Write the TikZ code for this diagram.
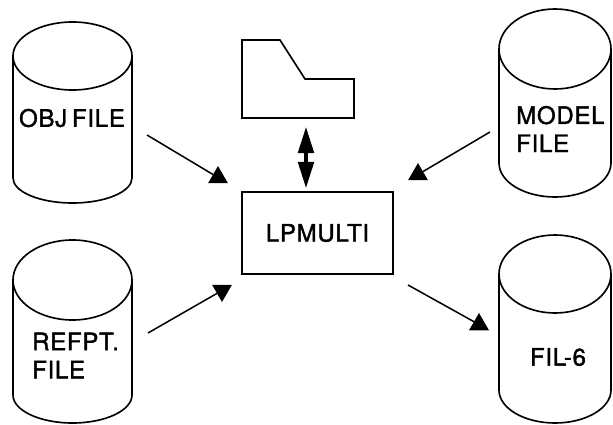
\documentclass[tikz,border=0pt]{standalone}
\usepackage{fontspec}
\newfontfamily\lblfont[FakeBold=1.6, LetterSpace=3]{TeX Gyre Heros}
\usetikzlibrary{positioning,arrows.meta,shapes.geometric}

% cylinder: left x, right x, top centre y, top y radius, bottom centre y, bottom y radius
\newcommand{\drum}[6]{%
  \pgfmathsetmacro\drumrx{(#2-#1)/2}
  \draw[cyl] ({(#1+#2)/2},-#3) ellipse [x radius=\drumrx, y radius=#4];
  \draw[cyl] (#1,-#3) -- (#1,-#5) arc [start angle=180, end angle=360, x radius=\drumrx, y radius=#6] -- (#2,-#3);
}

\tikzset{
  cyl/.style={line width=1.4pt},
  lbl/.style={font=\lblfont\fontsize{20.5}{24}\selectfont, inner sep=0pt, align=left},
  tipup/.style={regular polygon, regular polygon sides=3, fill=black, inner sep=0pt, outer sep=0pt, minimum size=0.69cm},
  tipdown/.style={tipup, rotate=180},
  conn/.style={line width=1.3pt},
  dblarrow/.style={line width=2.6pt, {Triangle[length=0.78cm 0,width=0.47cm 0]}-{Triangle[length=0.78cm 0,width=0.47cm 0]}},
}

\begin{document}
\begin{tikzpicture}[x=0.03cm,y=0.03cm]
\useasboundingbox (0,0) rectangle (613,-425);

% files
\drum{13}{132}{56}{34}{178}{25}
\drum{499}{611}{49}{40}{163}{34}
\drum{13}{132}{280}{40}{395}{28}
\drum{499}{611}{274}{39}{390}{33}
\node[lbl] (objtxt) at (72,-118) {OBJ\hspace{0.2em}FILE};
\node[lbl, anchor=west] (modeltxt) at (516,-129) {MODEL\\FILE};
\node[lbl, anchor=west] (refpttxt) at (32,-355.5) {REFPT.\\FILE};
\node[lbl] (filtxt) at (558,-357) {FIL-6};

% program and part
\node[draw, line width=1.4pt, minimum width=4.53cm, minimum height=2.46cm, inner sep=0pt,
      font=\lblfont\fontsize{20.5}{24}\selectfont] (lpmulti) at (317.5,-233) {LPMULTI};
\draw[line width=1.4pt] (242,-40) -- (280,-40) -- (305,-79) -- (354,-79) -- (354,-118) -- (242,-118) -- cycle;
\coordinate (partbase) at (306,-127);
\coordinate (lpin) at (306,-188);
\draw[dblarrow] (partbase) -- (lpin);

% arrow heads
\node[tipup] (t1) at (218,-177.5) {};
\node[tipup] (t2) at (418,-174.5) {};
\node[tipdown] (t3) at (222,-290.5) {};
\node[tipup] (t4) at (479,-324.5) {};

% connectors
\coordinate (objout) at (147,-135);
\coordinate (modelout) at (490,-132);
\coordinate (refptout) at (148,-333);
\coordinate (lpout) at (408,-285);
\draw[conn] (objout) -- (t1);
\draw[conn] (modelout) -- (t2);
\draw[conn] (refptout) -- (t3);
\draw[conn] (lpout) -- (t4);
\end{tikzpicture}
\end{document}
